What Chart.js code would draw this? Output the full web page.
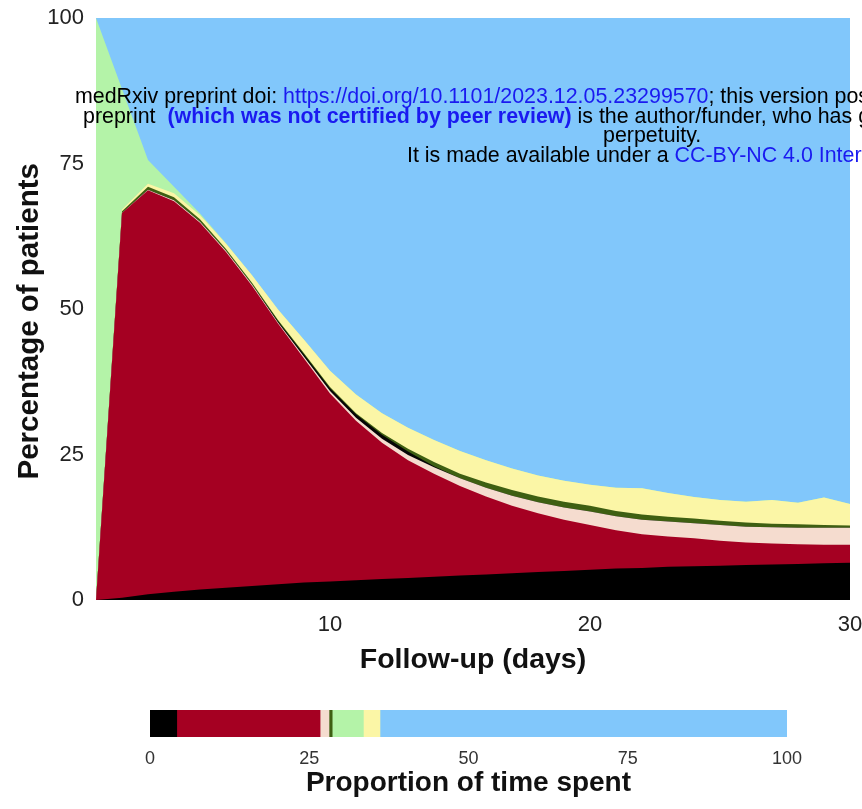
<!DOCTYPE html>
<html><head><meta charset="utf-8">
<script src="https://cdn.jsdelivr.net/npm/chart.js@4.4.0/dist/chart.umd.min.js"></script>
<style>
html,body{margin:0;padding:0;background:#fff;width:862px;height:809px;overflow:hidden;position:relative;}
#main{position:absolute;left:0;top:0;width:862px;height:690px;}
#bar{position:absolute;left:0;top:700px;width:862px;height:109px;}
.wm{position:absolute;white-space:nowrap;font-family:'Liberation Sans',Arial,sans-serif;font-size:21.4px;line-height:19.6px;color:#000;}
.wm .u{color:#1a1af0}
.wm .b{color:#1a1af0;font-weight:bold}
</style></head>
<body>
<canvas id="main" width="862" height="690"></canvas>
<canvas id="bar" width="862" height="109"></canvas>
<div class="wm" style="left:75px;top:87px">medRxiv preprint doi: <span class="u">https://doi.org/10.1101/2023.12.05.23299570</span>; this version posted December 6, 2023. The copyright holder for this</div>
<div class="wm" style="left:83px;top:106.6px">preprint&nbsp; <span class="b">(which was not certified by peer review)</span> is the author/funder, who has granted medRxiv a license to display the preprint in</div>
<div class="wm" style="left:603px;top:126.2px">perpetuity.</div>
<div class="wm" style="left:407px;top:145.8px">It is made available under a <span class="u">CC-BY-NC 4.0 International license</span> .</div>
<script>
// ---- Data: follow-up days ----
const days = [1,2,3,4,5,6,7,8,9,10,11,12,13,14,15,16,17,18,19,20,21,22,23,24,25,26,27,28,29,30];
// Percentage of patients in each state (stacked bottom to top)
const seriesBlack      = [0,0.4,1.0,1.4,1.8,2.1,2.4,2.7,3.0,3.2,3.4,3.6,3.8,4.0,4.2,4.4,4.6,4.8,5.0,5.2,5.4,5.5,5.7,5.8,5.9,6.0,6.1,6.2,6.3,6.4];
const seriesRed        = [0,66.1,69.4,67.1,63.0,57.7,51.6,44.8,38.5,32.3,27.4,23.4,20.2,17.7,15.4,13.4,11.6,10.1,8.8,7.7,6.6,5.8,5.2,4.8,4.3,3.9,3.6,3.4,3.2,3.1];
const seriesBeige      = [0,0,0.1,0.2,0.2,0.2,0.2,0.2,0.3,0.4,0.5,0.7,0.9,1.1,1.3,1.5,1.7,1.9,2.1,2.3,2.4,2.5,2.6,2.6,2.7,2.7,2.8,2.8,2.9,2.9];
const seriesThinBlack  = [0,0,0,0,0,0,0,0.2,0.4,0.5,0.6,0.7,0.6,0.2,0,0,0,0,0,0,0,0,0,0,0,0,0,0,0,0];
const seriesDarkGreen  = [0,0.3,0.5,0.5,0.4,0.3,0.3,0.2,0.2,0.2,0.2,0.3,0.5,0.7,0.8,0.9,1.0,1.0,1.0,1.0,0.9,0.9,0.8,0.8,0.7,0.7,0.6,0.6,0.5,0.4];
const seriesYellow     = [0,0.3,0.5,0.7,0.7,0.9,1.3,1.8,2.3,2.8,3.2,3.4,3.6,3.8,3.9,3.8,3.7,3.6,3.6,3.6,4.0,4.5,4.1,3.7,3.6,3.6,4.1,3.7,4.7,3.7];
const seriesLightGreen = [100,20.7,4.1,1.1,0.3,0.1,0,0,0,0,0,0,0,0,0,0,0,0,0,0,0,0,0,0,0,0,0,0,0,0];
const seriesBlue       = [0,12.2,24.4,29.0,33.6,38.7,44.2,50.1,55.3,60.6,64.7,67.9,70.4,72.5,74.4,76.0,77.4,78.6,79.5,80.2,80.7,80.8,81.6,82.3,82.8,83.1,82.8,83.3,82.4,83.5];
const xTickValues = [10,20,30];
const yTickValues = [0,25,50,75,100];
// Proportion of time spent in each state
const barBlack = 4.2, barRed = 22.5, barBeige = 1.4, barDarkGreen = 0.5, barLightGreen = 4.9, barYellow = 2.6, barBlue = 63.9;

const C = {
  black:'#000000', red:'#a50022', beige:'#f5dccf', thinBlack:'#050505',
  darkGreen:'#3e5f12', yellow:'#fbf6a6', lightGreen:'#b4f3a8', blue:'#81c7fb'
};

function mk(label, arr, color){
  return {label, data: days.map((d,i)=>({x:d,y:arr[i]})), backgroundColor: color,
    borderWidth:0, pointRadius:0, fill:'origin', tension:0};
}

new Chart(document.getElementById('main'), {
  type:'line',
  data:{datasets:[
    mk('black', seriesBlack, C.black),
    mk('red', seriesRed, C.red),
    mk('beige', seriesBeige, C.beige),
    mk('thin black', seriesThinBlack, C.thinBlack),
    mk('dark green', seriesDarkGreen, C.darkGreen),
    mk('yellow', seriesYellow, C.yellow),
    mk('light green', seriesLightGreen, C.lightGreen),
    mk('blue', seriesBlue, C.blue)
  ]},
  options:{
    responsive:false, animation:false, devicePixelRatio:1,
    layout:{padding:{top:18,right:12,left:0,bottom:0}},
    plugins:{legend:{display:false}, tooltip:{enabled:false}},
    scales:{
      x:{type:'linear', min:1, max:30,
        afterBuildTicks:(s)=>{ s.ticks = xTickValues.map(v=>({value:v})); },
        afterFit:(s)=>{ s.height = 90; s.paddingLeft = 0; s.paddingRight = 0; },
        grid:{display:false, drawTicks:false}, border:{display:false},
        ticks:{padding:12, color:'#222', font:{family:'Liberation Sans', size:22}},
        title:{display:true, text:'Follow-up (days)', color:'#111', padding:{top:0,bottom:13},
          font:{family:'Liberation Sans', size:28.5, weight:'bold'}}
      },
      y:{stacked:true, min:0, max:100,
        afterBuildTicks:(s)=>{ s.ticks = yTickValues.map(v=>({value:v})); },
        afterFit:(s)=>{ s.width = 96; s.paddingTop = 0; s.paddingBottom = 0; },
        grid:{display:false, drawTicks:false}, border:{display:false},
        ticks:{padding:12, color:'#222', font:{family:'Liberation Sans', size:22}},
        title:{display:true, text:'Percentage of patients   ', color:'#111', padding:{top:12,bottom:0},
          font:{family:'Liberation Sans', size:29.5, weight:'bold'}}
      }
    }
  }
});

function bs(label, v, color){
  return {label, data:[v], backgroundColor:color, borderWidth:0, barPercentage:1, categoryPercentage:1};
}
new Chart(document.getElementById('bar'), {
  type:'bar',
  data:{labels:[''], datasets:[
    bs('black', barBlack, C.black),
    bs('red', barRed, C.red),
    bs('beige', barBeige, C.beige),
    bs('dark green', barDarkGreen, C.darkGreen),
    bs('light green', barLightGreen, C.lightGreen),
    bs('yellow', barYellow, C.yellow),
    bs('blue', barBlue, C.blue)
  ]},
  options:{
    indexAxis:'y', responsive:false, animation:false, devicePixelRatio:1,
    layout:{padding:{top:10,left:150,right:75,bottom:0}},
    plugins:{legend:{display:false}, tooltip:{enabled:false}},
    scales:{
      y:{stacked:true, display:false},
      x:{stacked:true, min:0, max:100,
        afterBuildTicks:(s)=>{ s.ticks = yTickValues.map(v=>({value:v})); },
        afterFit:(s)=>{ s.height = 72; },
        grid:{display:false, drawTicks:false}, border:{display:false},
        ticks:{padding:11, color:'#333', font:{family:'Liberation Sans', size:18}},
        title:{display:true, text:'Proportion of time spent', color:'#111', padding:{top:0,bottom:9},
          font:{family:'Liberation Sans', size:28, weight:'bold'}}
      }
    }
  }
});
</script>
</body></html>
